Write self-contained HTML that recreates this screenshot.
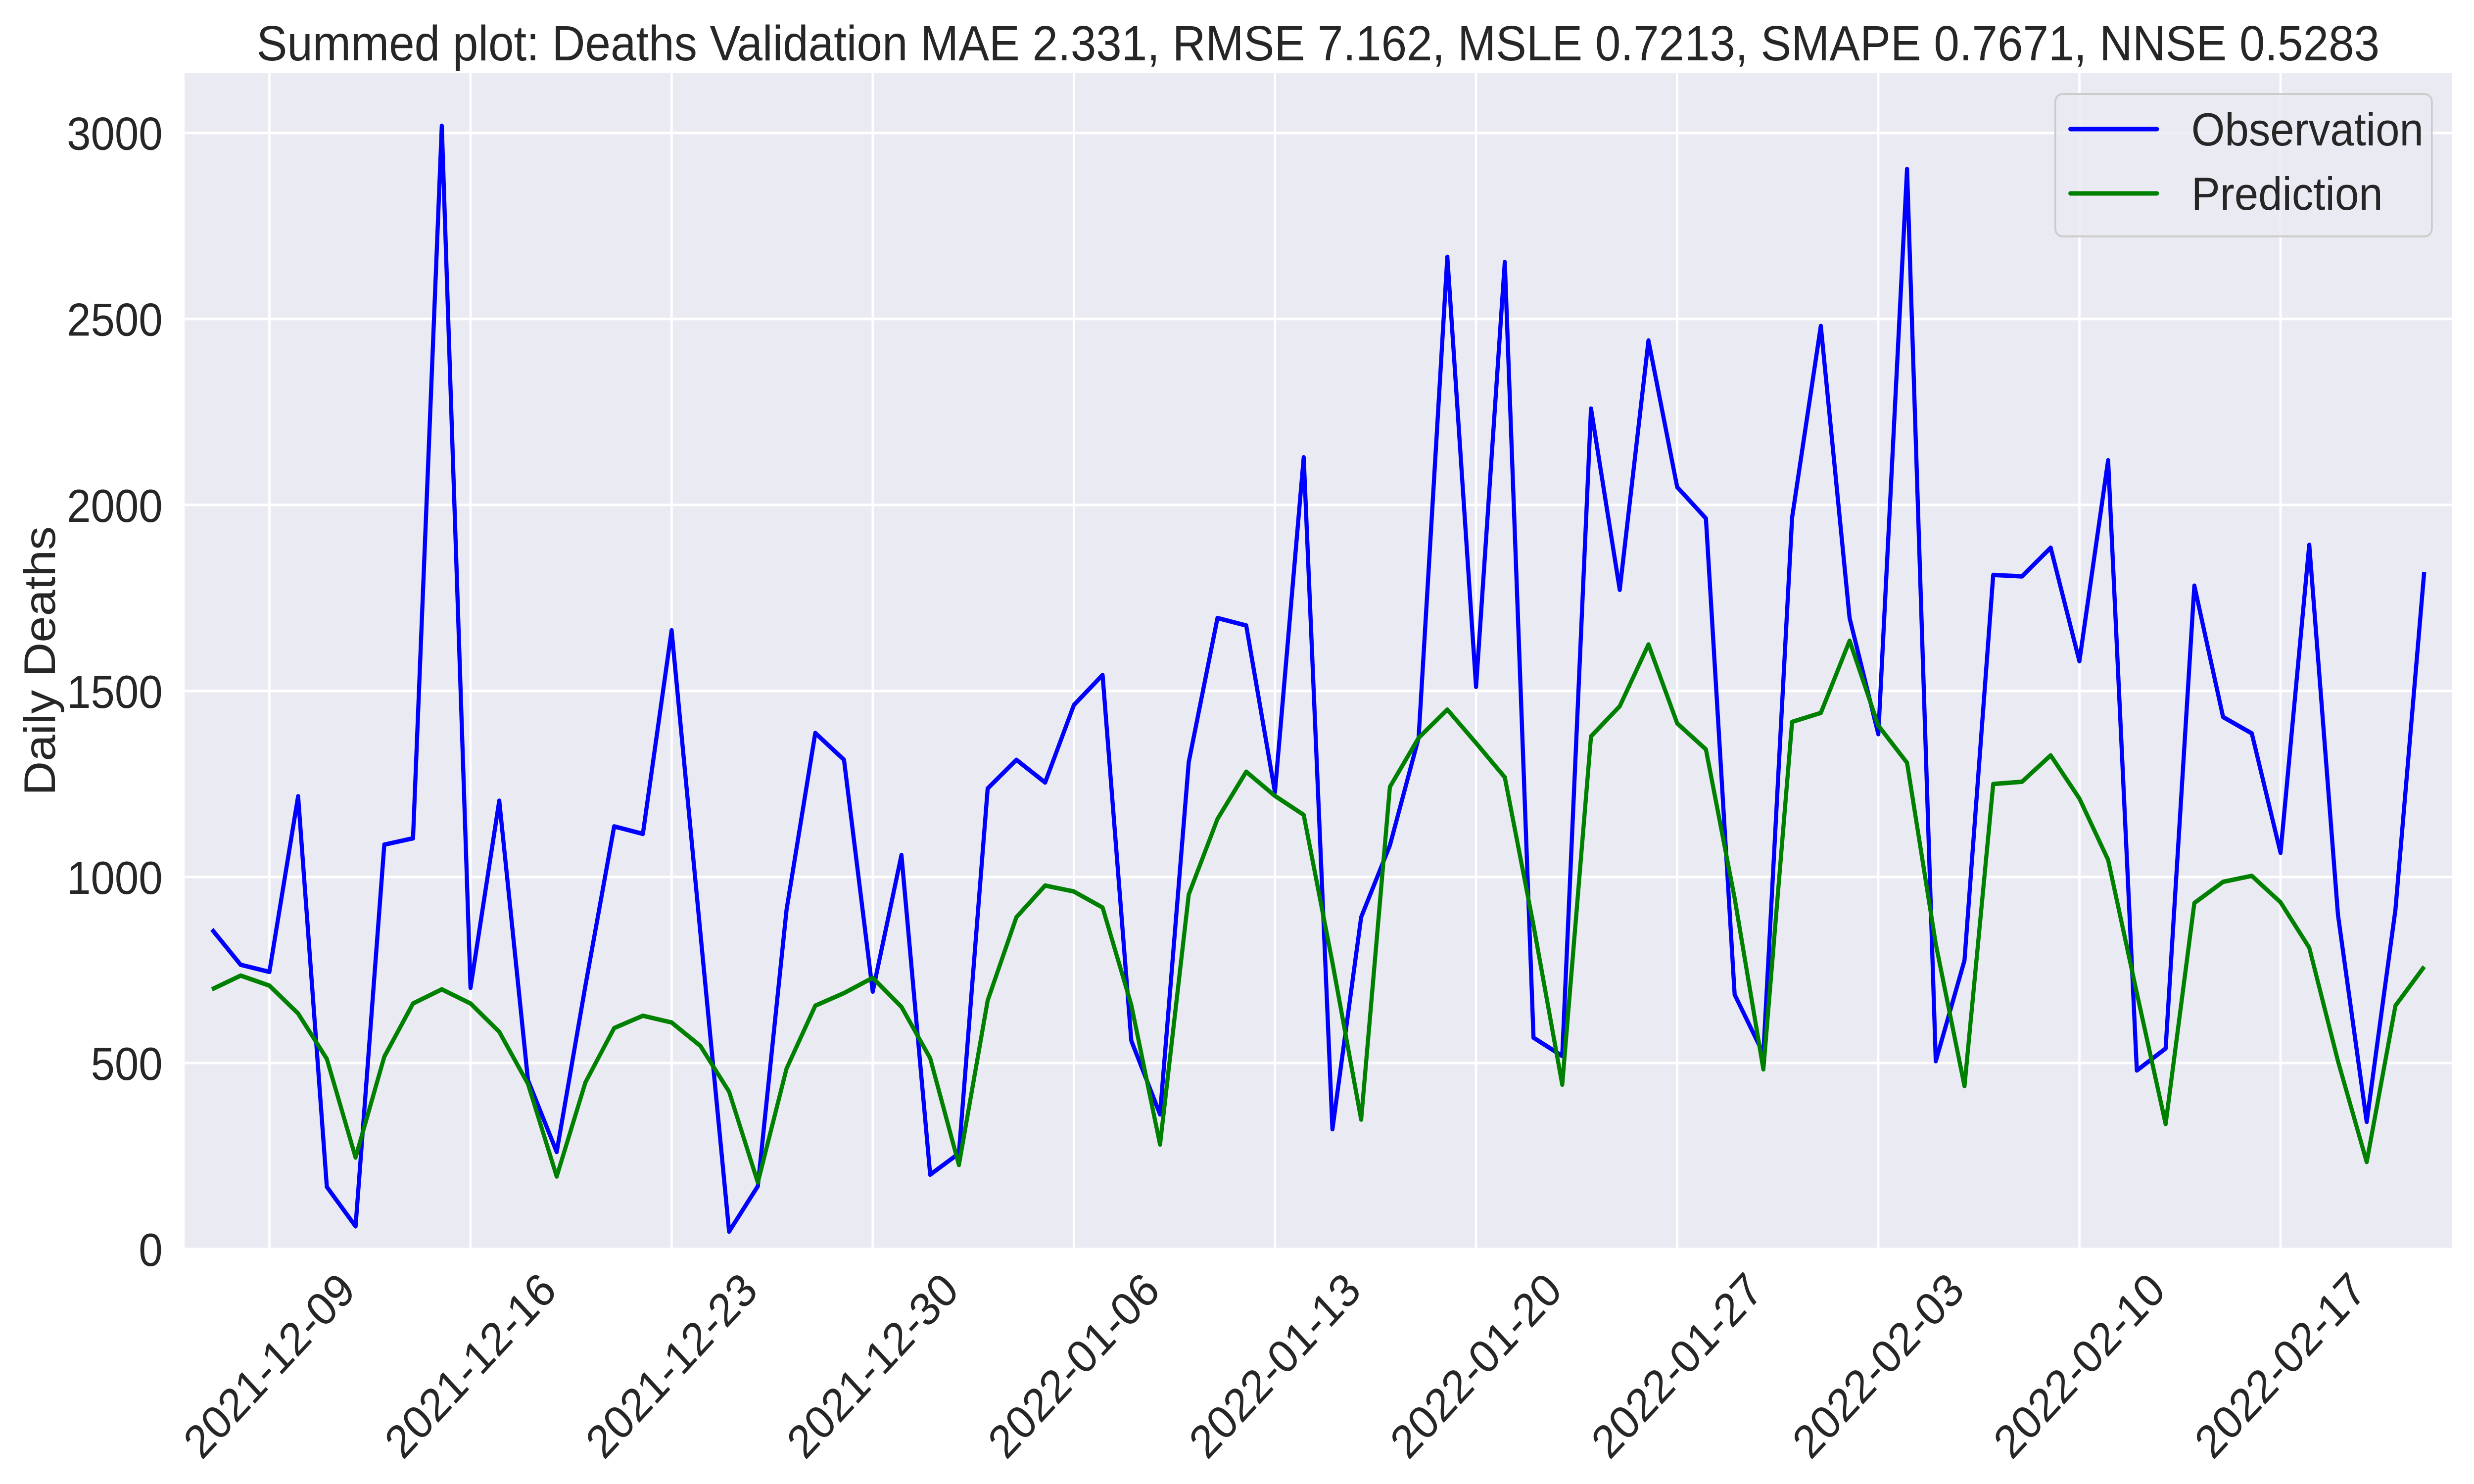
<!DOCTYPE html>
<html><head><meta charset="utf-8">
<style>
html,body{margin:0;padding:0;background:#fff;width:100%;height:100%;overflow:hidden;}
svg{display:block;width:100vw;height:100vh;font-family:"Liberation Sans",Arial,sans-serif;}
</style></head>
<body>
<svg id="chart" viewBox="0 0 5400 3000" preserveAspectRatio="none" xmlns="http://www.w3.org/2000/svg">
  <rect x="0" y="0" width="5400" height="3000" fill="#ffffff"/>
  <rect x="403" y="148" width="4949" height="2377" fill="#eaeaf2"/>
  <g id="grid"></g>
  <g id="series"></g>
  <g id="ticks" fill="#262626" font-size="94"></g>
  <text x="2877" y="122" text-anchor="middle" font-size="100" fill="#262626">Summed plot: Deaths Validation MAE 2.331, RMSE 7.162, MSLE 0.7213, SMAPE 0.7671, NNSE 0.5283</text>
  <text x="0" y="0" transform="translate(120,1336) rotate(-90)" text-anchor="middle" font-size="96" fill="#262626">Daily Deaths</text>
  <g>
    <rect x="4486" y="190" width="822" height="288" rx="16" fill="#eaeaf2" fill-opacity="0.8" stroke="#cccccc" stroke-width="4"/>
    <line x1="4519" y1="261" x2="4708" y2="261" stroke="#0000ff" stroke-width="9" stroke-linecap="round"/>
    <text x="4783" y="294" font-size="94" fill="#262626">Observation</text>
    <line x1="4519" y1="391" x2="4708" y2="391" stroke="#008000" stroke-width="9" stroke-linecap="round"/>
    <text x="4783" y="424" font-size="94" fill="#262626">Prediction</text>
  </g>
</svg>
<script>
const observation = [859,764,745,1217,167,61,1087,1104,3019,702,1205,454,261,708,1136,1116,1663,850,47,169,
912,1387,1315,692,1059,200,257,1238,1315,1254,1462,1543,560,362,1309,1696,1676,1228,2128,322,
892,1085,1374,2667,1511,2653,568,519,2259,1772,2442,2048,1964,684,525,1966,2481,1696,1384,2903,
505,776,1812,1808,1885,1580,2120,480,539,1783,1430,1386,1065,1893,898,342,912,1820];
const prediction = [698,735,708,633,511,246,517,660,698,660,584,444,195,448,594,627,609,546,423,179,
485,654,688,729,651,513,226,668,892,977,961,918,656,281,953,1156,1283,1218,1167,770,
348,1242,1374,1450,1360,1268,870,442,1378,1459,1625,1413,1343,943,483,1417,1441,1635,1407,1307,
820,438,1250,1256,1327,1211,1046,688,336,930,987,1003,932,810,505,234,654,759];
const yTicks = [0,500,1000,1500,2000,2500,3000];
const xTickLabels = ["2021-12-09","2021-12-16","2021-12-23","2021-12-30","2022-01-06","2022-01-13","2022-01-20","2022-01-27","2022-02-03","2022-02-10","2022-02-17"];
const xTickIndex = [2,9,16,23,30,37,44,51,58,65,72];

const NS = "http://www.w3.org/2000/svg";
const PL = 403, PR = 5352, PT = 148, PB = 2525;
function xs(i){ return 588 + (i - 2) * 62.71; }
function ys(v){ return 2525 - v * 0.7521; }

const grid = document.getElementById('grid');
const ticks = document.getElementById('ticks');
yTicks.forEach(function(t){
  const l = document.createElementNS(NS,'line');
  l.setAttribute('x1',PL); l.setAttribute('x2',PR);
  l.setAttribute('y1',ys(t)); l.setAttribute('y2',ys(t));
  l.setAttribute('stroke','#ffffff'); l.setAttribute('stroke-width','5');
  
  
  grid.appendChild(l);
  const tx = document.createElementNS(NS,'text');
  tx.setAttribute('x',355); tx.setAttribute('y',ys(t)+34);
  tx.setAttribute('text-anchor','end');
  tx.textContent = String(t);
  
  
  ticks.appendChild(tx);
});
xTickIndex.forEach(function(idx,k){
  const x = xs(idx);
  const l = document.createElementNS(NS,'line');
  l.setAttribute('x1',x); l.setAttribute('x2',x);
  l.setAttribute('y1',PT); l.setAttribute('y2',PB);
  l.setAttribute('stroke','#ffffff'); l.setAttribute('stroke-width','5');
  
  
  grid.appendChild(l);
  const tx = document.createElementNS(NS,'text');
  tx.setAttribute('x',0); tx.setAttribute('y',0);
  tx.setAttribute('text-anchor','middle');
  tx.setAttribute('dominant-baseline','central');
  tx.setAttribute('transform','translate('+x+',2761) rotate(-45)');
  tx.textContent = xTickLabels[k];
  
  
  ticks.appendChild(tx);
});

const series = document.getElementById('series');
function drawLine(vals,color,name){
  const p = document.createElementNS(NS,'polyline');
  p.setAttribute('points', vals.map(function(v,i){ return xs(i).toFixed(1)+','+ys(v).toFixed(1); }).join(' '));
  p.setAttribute('fill','none'); p.setAttribute('stroke',color);
  p.setAttribute('stroke-width','9'); p.setAttribute('stroke-linejoin','round');
  
  
  series.appendChild(p);
}
drawLine(observation,'#0000ff','observation-line');
drawLine(prediction,'#008000','prediction-line');
</script>
</body></html>
